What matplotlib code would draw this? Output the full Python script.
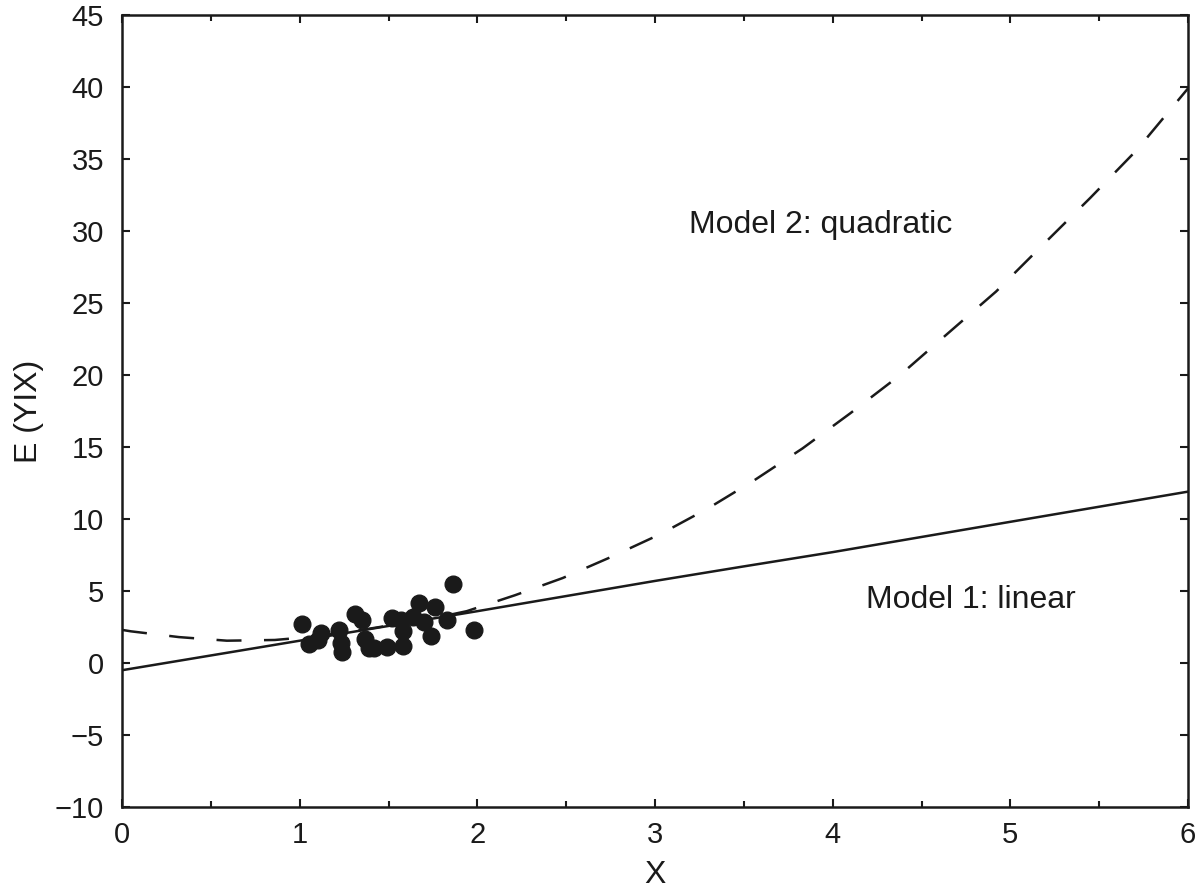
import matplotlib
matplotlib.use('Agg')
import matplotlib.pyplot as plt
from matplotlib.ticker import MultipleLocator

plt.rcParams['font.family'] = ['Liberation Sans', 'DejaVu Sans']

pts_x = [1.01, 1.05, 1.10, 1.12, 1.22, 1.23, 1.24, 1.31, 1.35, 1.37, 1.39, 1.42,
         1.49, 1.52, 1.57, 1.58, 1.58, 1.64, 1.67, 1.70, 1.76, 1.74, 1.83, 1.86, 1.98]
pts_y = [2.70, 1.30, 1.60, 2.10, 2.30, 1.40, 0.75, 3.40, 3.00, 1.70, 1.05, 1.05,
         1.10, 3.10, 3.00, 2.20, 1.20, 3.20, 4.20, 2.85, 3.90, 1.90, 3.00, 5.50, 2.30]

# Model 1: linear fit
lin_x = [0.0, 1.0, 2.0, 3.0, 3.48, 4.0, 4.95, 6.0]
lin_y = [-0.5, 1.55, 3.6, 5.7, 6.67, 7.7, 9.7, 11.9]

# Model 2: quadratic fit
quad_x = [0.0, 0.05, 0.32, 0.59, 0.86, 1.0, 1.25, 1.5, 1.75, 1.94, 2.21, 2.48, 2.75,
          3.03, 3.30, 3.56, 3.83, 4.10, 4.38, 4.64, 4.92, 5.18, 5.45, 5.71, 6.0]
quad_y = [2.3, 2.2, 1.8, 1.55, 1.6, 1.75, 2.1, 2.6, 3.1, 3.6, 4.7, 5.9, 7.35,
          8.95, 10.75, 12.7, 14.9, 17.35, 20.0, 22.8, 25.8, 29.0, 32.3, 35.6, 39.9]

ink = '#1a1a1a'
fs = 23      # annotations / axis labels
tfs = 21     # tick labels

fig = plt.figure(figsize=(11.97, 8.89), dpi=100)
ax = fig.add_axes([0.102, 0.0922, 0.8905, 0.891])

ax.plot(lin_x, lin_y, color=ink, lw=1.8)
ax.plot(quad_x, quad_y, color=ink, lw=1.8, linestyle=(0, (10, 9)))
ax.plot(pts_x, pts_y, 'o', color=ink, ms=12, mec=ink)

ax.text(3.19, 30.4, 'Model 2: quadratic', fontsize=fs, va='center', color=ink)
ax.text(4.19, 4.4, 'Model 1: linear', fontsize=fs, va='center', color=ink)

ax.set_xlim(0, 6)
ax.set_ylim(-10, 45)
ax.xaxis.set_major_locator(MultipleLocator(1))
ax.xaxis.set_minor_locator(MultipleLocator(0.5))
ax.tick_params(which='both', direction='in', top=True, right=True,
               width=1.5, color=ink, labelsize=tfs, labelcolor=ink)
ax.tick_params(which='major', length=6)
ax.tick_params(which='minor', length=4)
ax.tick_params(axis='x', pad=10)
ax.tick_params(axis='y', pad=13)
ax.set_yticks(range(-10, 46, 5))
ax.set_yticklabels(['\u221210', '\u22125'] + [str(v) for v in range(0, 46, 5)])

for s in ax.spines.values():
    s.set_linewidth(1.8)
    s.set_color(ink)

ax.set_xlabel('X', fontsize=fs, color=ink, labelpad=8)
ax.set_ylabel('E (YIX)', fontsize=fs, color=ink, labelpad=8)

fig.savefig('out.png', dpi=100)
